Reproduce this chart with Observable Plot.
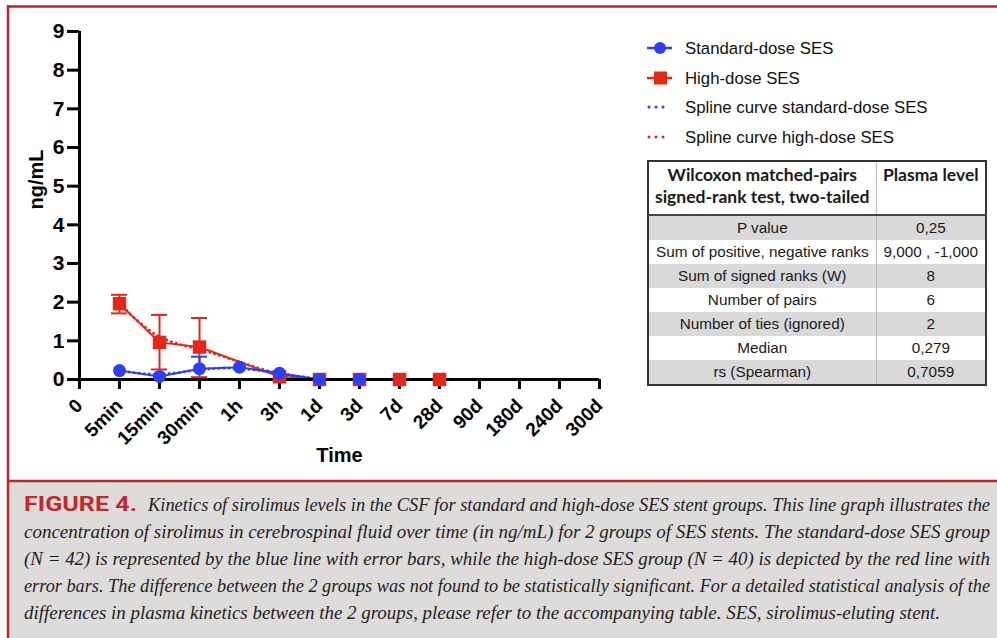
<!DOCTYPE html>
<html>
<head>
<meta charset="utf-8">
<script src="https://cdn.jsdelivr.net/npm/d3@7"></script>
<script src="https://cdn.jsdelivr.net/npm/@observablehq/plot@0.6"></script>
<style>
  html, body { margin: 0; padding: 0; background: #fff; }
  #wrap { position: relative; width: 997px; height: 638px; overflow: hidden; }
  #bg, #plot, #tbl { position: absolute; left: 0; top: 0; }
  #tbl { left: 647px; top: 160px; }
  table { border-collapse: collapse; width: 340px; border: 2px solid #333; font-family: "Liberation Sans", Arial, sans-serif; font-size: 15.3px; color: #1a1a1a; }
  td, th { padding: 0; text-align: center; border-left: 1px solid #bbb; }
  th { font-family: Lato, "Open Sans", sans-serif; font-weight: 700; font-size: 17.5px; height: 50px; line-height: 22px; border-bottom: 2px solid #444; vertical-align: top; padding-top: 2px; white-space: nowrap; }
  td { height: 24px; line-height: 24px; white-space: nowrap; }
  tr.g td { background: #d9d9d9; }
</style>
</head>
<body>
<div id="wrap">
  <svg id="bg" width="997" height="638"></svg>
  <div id="plot"></div>
  <div id="tbl"></div>
</div>
<script>
// ---- data ----
const timeLabels = ["0","5min","15min","30min","1h","3h","1d","3d","7d","28d","90d","180d","240d","300d"];
const yTicks = [0,1,2,3,4,5,6,7,8,9];

const stdTimes = ["5min","15min","30min","1h","3h","1d","3d"];
const stdMean  = [0.23, 0.08, 0.28, 0.32, 0.16, 0, 0];
const stdErrTimes = ["30min"];
const stdErrHigh  = [0.59];

const highTimes = ["5min","15min","30min","3h","1d","3d","7d","28d"];
const highMean  = [1.96, 0.96, 0.84, 0.07, 0, 0, 0, 0];
const highErrTimes = ["5min","15min","30min"];
const highErrLow   = [1.71, 0.26, 0.06];
const highErrHigh  = [2.19, 1.67, 1.59];

const legendLabels = ["Standard-dose SES","High-dose SES","Spline curve standard-dose SES","Spline curve high-dose SES"];

const tableHeader = ["Wilcoxon matched-pairs\nsigned-rank test, two-tailed", "Plasma level"];
const tableRowLabels = ["P value","Sum of positive, negative ranks","Sum of signed ranks (W)","Number of pairs","Number of ties (ignored)","Median","rs (Spearman)"];
const tableRowValues = ["0,25","9,000 , -1,000","8","6","2","0,279","0,7059"];

const captionLead = "FIGURE 4.";
const captionLines = [
  "Kinetics of sirolimus levels in the CSF for standard and high-dose SES stent groups. This line graph illustrates the",
  "concentration of sirolimus in cerebrospinal fluid over time (in ng/mL) for 2 groups of SES stents. The standard-dose SES group",
  "(N = 42) is represented by the blue line with error bars, while the high-dose SES group (N = 40) is depicted by the red line with",
  "error bars. The difference between the 2 groups was not found to be statistically significant. For a detailed statistical analysis of the",
  "differences in plasma kinetics between the 2 groups, please refer to the accompanying table. SES, sirolimus-eluting stent."
];

// ---- build tables for Plot ----
const RED = "#e1281b", BLUE = "#2d3ff4";
const std = stdTimes.map((t, i) => ({t, v: stdMean[i]}));
const high = highTimes.map((t, i) => ({t, v: highMean[i]}));
const stdErr = stdErrTimes.map((t, i) => ({t, v: stdMean[stdTimes.indexOf(t)], hi: stdErrHigh[i]}));
const highErr = highErrTimes.map((t, i) => ({t, lo: highErrLow[i], hi: highErrHigh[i]}));

const font = "'Liberation Sans', Arial, Helvetica, sans-serif";

const chart = Plot.plot({
  width: 640, height: 480,
  marginTop: 31, marginBottom: 101, marginLeft: 79, marginRight: 41,
  style: {background: "transparent", overflow: "visible", fontFamily: font},
  x: {type: "band", domain: timeLabels, range: [59, 619], padding: 0},
  y: {domain: [0, 9]},
  marks: [
    Plot.line(high, {x: "t", y: "v", stroke: RED, strokeWidth: 3, strokeDasharray: "0,5", strokeLinecap: "round", curve: "basis"}),
    Plot.line(high, {x: "t", y: "v", stroke: RED, strokeWidth: 2}),
    Plot.line(std, {x: "t", y: "v", stroke: BLUE, strokeWidth: 3, strokeDasharray: "0,5", strokeLinecap: "round", curve: "basis"}),
    Plot.line(std, {x: "t", y: "v", stroke: BLUE, strokeWidth: 2}),
    Plot.ruleY([0], {stroke: "#000", strokeWidth: 3}),
    Plot.ruleX(["0"], {y1: 0, y2: 9, stroke: "#000", strokeWidth: 3}),
    Plot.axisY({ticks: yTicks, tickSize: 12, tickPadding: 3, strokeWidth: 3, fontSize: 21, fontWeight: "bold", label: null, fill: "#000"}),
    Plot.axisX({tickSize: 10, tickPadding: 13, tickRotate: -45, strokeWidth: 3, fontSize: 19, fontWeight: "bold", label: null, fill: "#000"}),
    Plot.text(["Time"], {frameAnchor: "bottom", dy: 82, fontSize: 20, fontWeight: "bold", fill: "#000"}),
    Plot.text(["ng/mL"], {frameAnchor: "left", dx: -43, dy: 4, rotate: -90, fontSize: 20, fontWeight: "bold", fill: "#000"}),
    // high-dose error bars
    Plot.ruleX(highErr, {x: "t", y1: "lo", y2: "hi", stroke: RED, strokeWidth: 2}),
    Plot.tickY(highErr, {x: "t", y: "hi", stroke: RED, strokeWidth: 2, insetLeft: 12, insetRight: 12}),
    Plot.tickY(highErr, {x: "t", y: "lo", stroke: RED, strokeWidth: 2, insetLeft: 12, insetRight: 12}),
    Plot.dot(high, {x: "t", y: "v", symbol: "square", r: 7.6, fill: RED, stroke: null}),
    // standard-dose error bars
    Plot.ruleX(stdErr, {x: "t", y1: "v", y2: "hi", stroke: BLUE, strokeWidth: 2}),
    Plot.tickY(stdErr, {x: "t", y: "hi", stroke: BLUE, strokeWidth: 2, insetLeft: 12, insetRight: 12}),
    Plot.dot(std, {x: "t", y: "v", r: 6.5, fill: BLUE, stroke: null})
  ]
});
document.getElementById("plot").appendChild(chart);

// ---- background: frame, legend, caption ----
const svg = d3.select("#bg");
const FR = "#b8262e";
svg.append("rect").attr("x", 9).attr("y", 482).attr("width", 988).attr("height", 156).attr("fill", "#dedbdb");
svg.append("line").attr("x1", 7).attr("x2", 997).attr("y1", 6.5).attr("y2", 6.5).attr("stroke", FR).attr("stroke-width", 2.5);
svg.append("line").attr("x1", 8).attr("x2", 8).attr("y1", 5.5).attr("y2", 638).attr("stroke", FR).attr("stroke-width", 2.5);
svg.append("line").attr("x1", 8).attr("x2", 997).attr("y1", 481).attr("y2", 481).attr("stroke", FR).attr("stroke-width", 2.5);

// legend
const legY = [48, 78, 107, 137];
const lg = svg.append("g");
legendLabels.forEach((lab, i) => {
  const y = legY[i];
  const col = (i % 2 === 0) ? BLUE : RED;
  if (i < 2) {
    lg.append("line").attr("x1", 647).attr("x2", 672).attr("y1", y).attr("y2", y).attr("stroke", col).attr("stroke-width", 2.5);
    if (i === 0) lg.append("circle").attr("cx", 660).attr("cy", y).attr("r", 6).attr("fill", col);
    else lg.append("rect").attr("x", 654).attr("y", y - 6.5).attr("width", 13).attr("height", 13).attr("fill", col);
  } else {
    lg.append("line").attr("x1", 649).attr("x2", 670).attr("y1", y).attr("y2", y).attr("stroke", col).attr("stroke-width", 3)
      .attr("stroke-dasharray", "0,7").attr("stroke-linecap", "round");
  }
  lg.append("text").attr("x", 685).attr("y", y + 6).attr("font-family", font).attr("font-size", 16.8).attr("fill", "#111").text(lab);
});

// caption
const capBase = [511, 538, 565, 592, 619];
svg.append("text").attr("x", 24).attr("y", capBase[0]).attr("font-family", "Roboto, 'Liberation Sans', sans-serif")
  .attr("font-weight", 700).attr("font-size", 20).attr("fill", "#c1282f")
  .attr("textLength", 113).attr("lengthAdjust", "spacingAndGlyphs").text(captionLead);
const capX = [148, 24, 24, 24, 24];
const capW = [842, 966, 966, 966, 916];
captionLines.forEach((ln, i) => {
  svg.append("text").attr("x", capX[i]).attr("y", capBase[i])
    .attr("font-family", "'Liberation Serif', 'DejaVu Serif', serif").attr("font-style", "italic")
    .attr("font-size", 18.3).attr("fill", "#1e1e1e")
    .attr("textLength", capW[i]).attr("lengthAdjust", "spacingAndGlyphs").text(ln);
});

// ---- table ----
let html = "<table><colgroup><col style='width:229px'><col style='width:111px'></colgroup><tr>";
html += "<th>" + tableHeader[0].replace("\n", "<br>") + "</th><th>" + tableHeader[1] + "</th></tr>";
tableRowLabels.forEach((lab, i) => {
  html += "<tr class='" + (i % 2 === 0 ? "g" : "") + "'><td>" + lab + "</td><td>" + tableRowValues[i] + "</td></tr>";
});
html += "</table>";
document.getElementById("tbl").innerHTML = html;
</script>
</body>
</html>
